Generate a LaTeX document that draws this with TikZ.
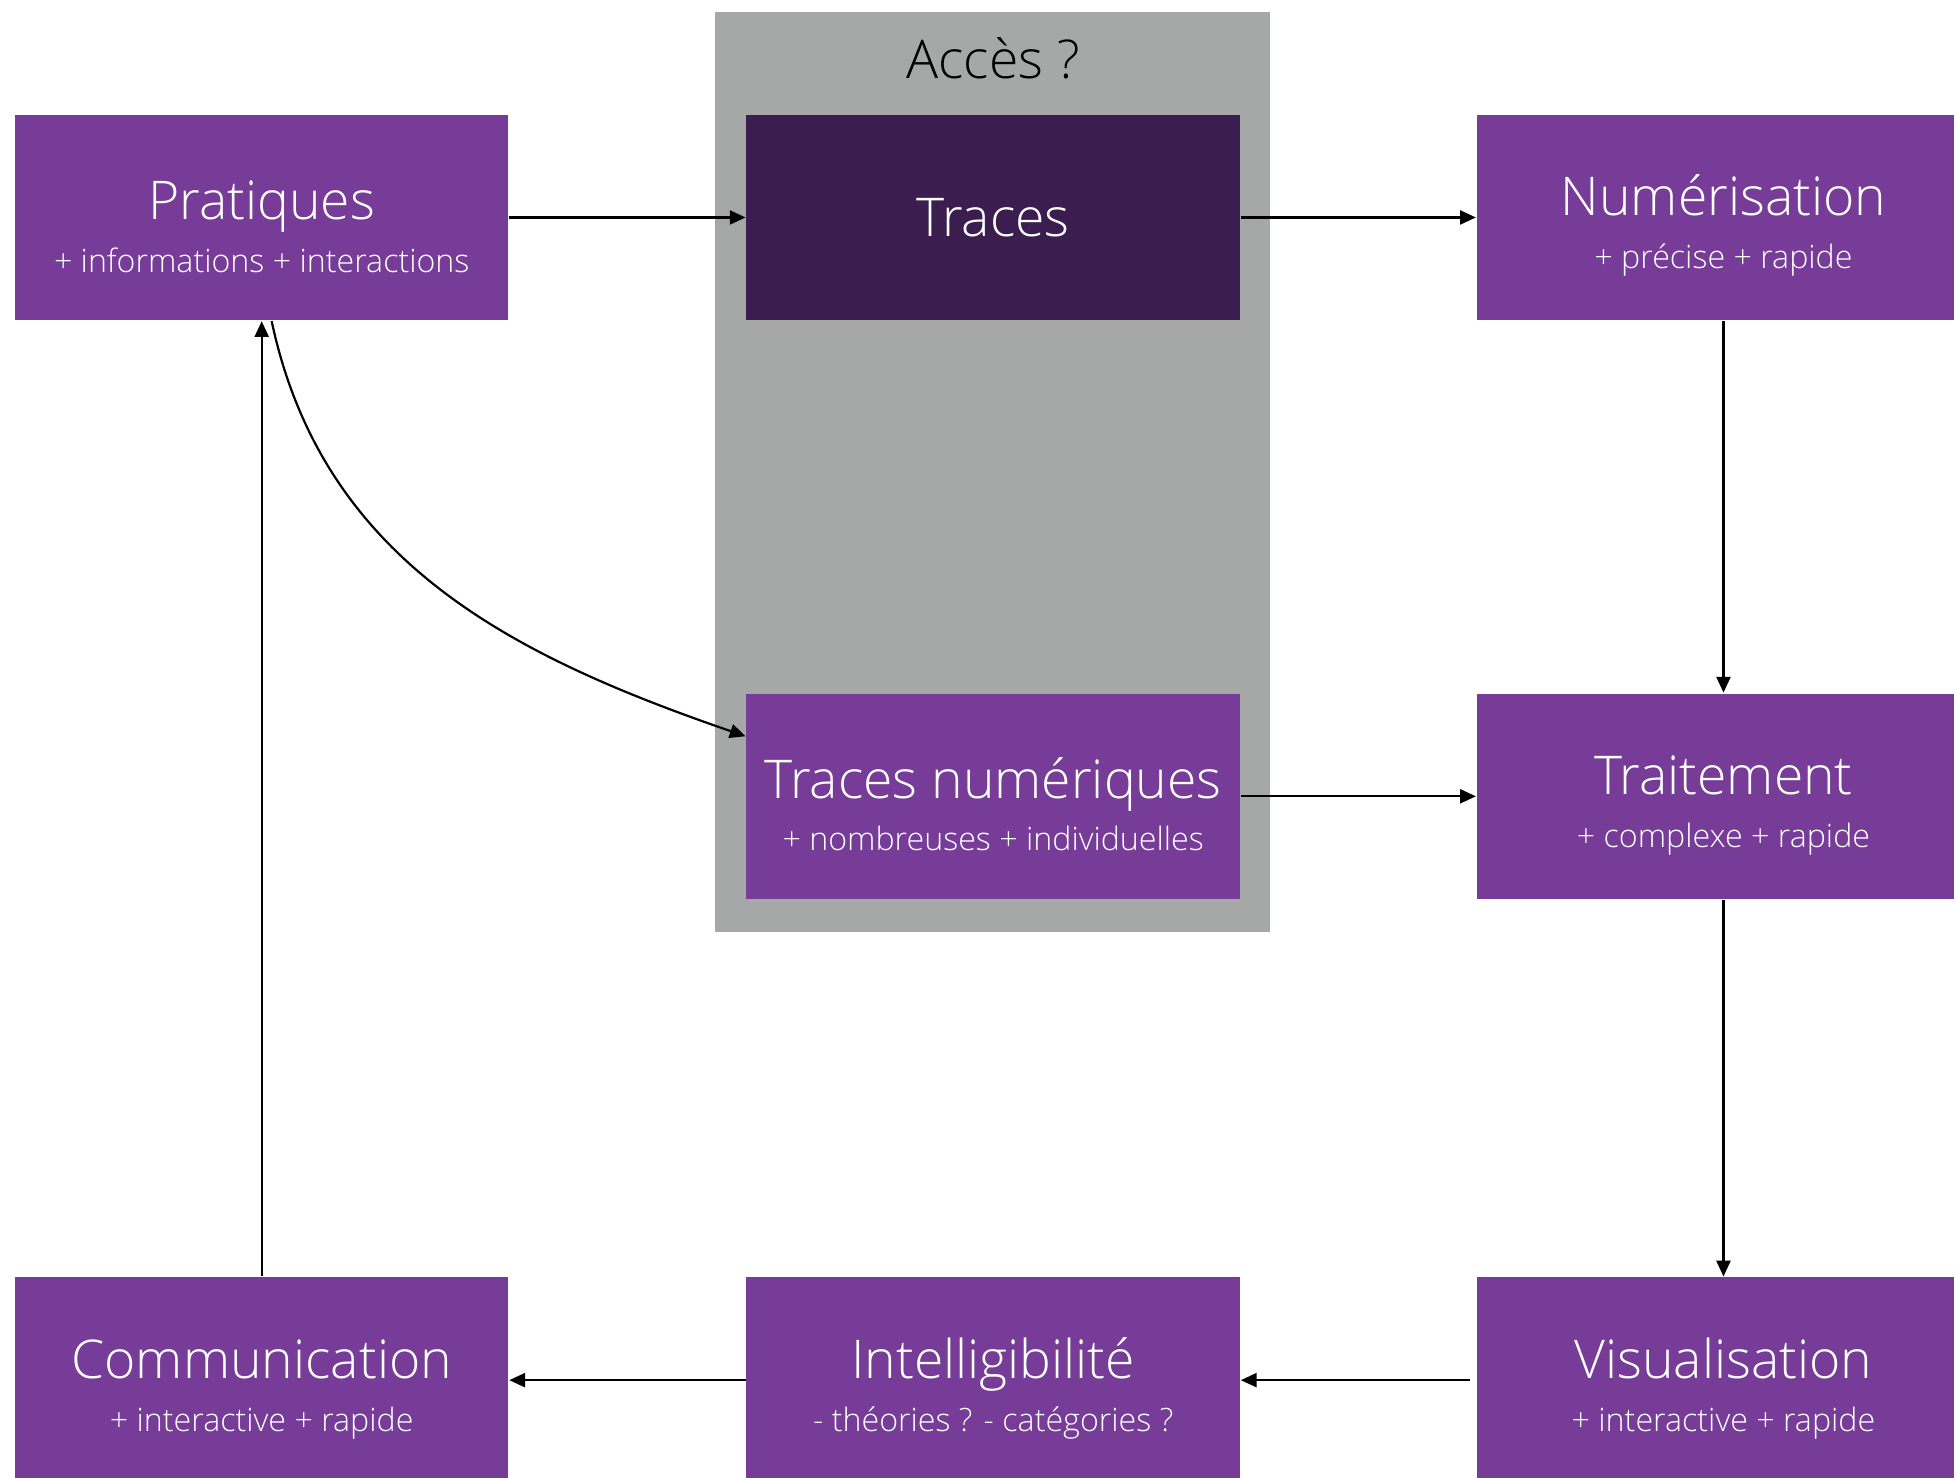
\documentclass[tikz,border=0pt]{standalone}
\usepackage{fontspec}
\setmainfont{Open Sans}[UprightFont={* Light}]
\usetikzlibrary{arrows.meta}
\definecolor{boxviolet}{HTML}{763C97}
\definecolor{boxdark}{HTML}{3B1E4F}
\definecolor{boxgrey}{HTML}{A5A8A7}
\newcommand{\ttl}[1]{{\fontsize{12.2}{12}\selectfont #1}}
\newcommand{\ttlb}[1]{{\fontsize{12.2}{12}\selectfont\rule{0pt}{13pt}#1}}
\tikzstyle{boxv}=[rectangle,fill=boxviolet,text=white,minimum width=3.96cm,minimum height=1.65cm,inner sep=0pt,align=center,font=\fontsize{7.35}{12}\selectfont]
\tikzstyle{boxd}=[boxv,fill=boxdark]
\tikzstyle{fleche}=[line width=0.5pt,-{Triangle[length=3.6pt,width=3.2pt]}]

\begin{document}
\begin{tikzpicture}
    \useasboundingbox (0,-11.86) rectangle (15.68,0);
    % zone grise
    \fill[boxgrey] (5.74,-0.10) rectangle (10.19,-7.48);
    \node (acc) at (7.97,-0.47) {\ttl{Accès ?}};

    \node[boxv] (pra) at (2.10,-1.745) {\ttlb{Pratiques}\\+ informations + interactions};
    \node[boxd] (tra) at (7.97,-1.745) {\ttl{Traces}};
    \node[boxv] (num) at (13.83,-1.745) {\ttlb{Numérisation}\\+ précise + rapide};
    \node[boxv] (trn) at (7.97,-6.39) {\ttlb{Traces numériques}\\+ nombreuses + individuelles};
    \node[boxv] (trt) at (13.83,-6.39) {\ttlb{Traitement}\\+ complexe + rapide};
    \node[boxv] (vis) at (13.83,-11.075) {\ttlb{Visualisation}\\+ interactive + rapide};
    \node[boxv] (int) at (7.97,-11.075) {\ttlb{Intelligibilité}\\- théories ? - catégories ?};
    \node[boxv] (com) at (2.10,-11.075) {\ttlb{Communication}\\+ interactive + rapide};

    \foreach \from/\to in {pra/tra,tra/num,num/trt,trn/trt,trt/vis,int/com,com/pra}
    \draw[fleche] (\from) -- (\to);
    \draw[fleche] ([xshift=-0.5mm]vis.west) -- (int);
    \draw[fleche] ([xshift=0.8mm]pra.south) to[out=-78,in=161] ([yshift=-3.5mm]trn.north west);
\end{tikzpicture}
\end{document}
